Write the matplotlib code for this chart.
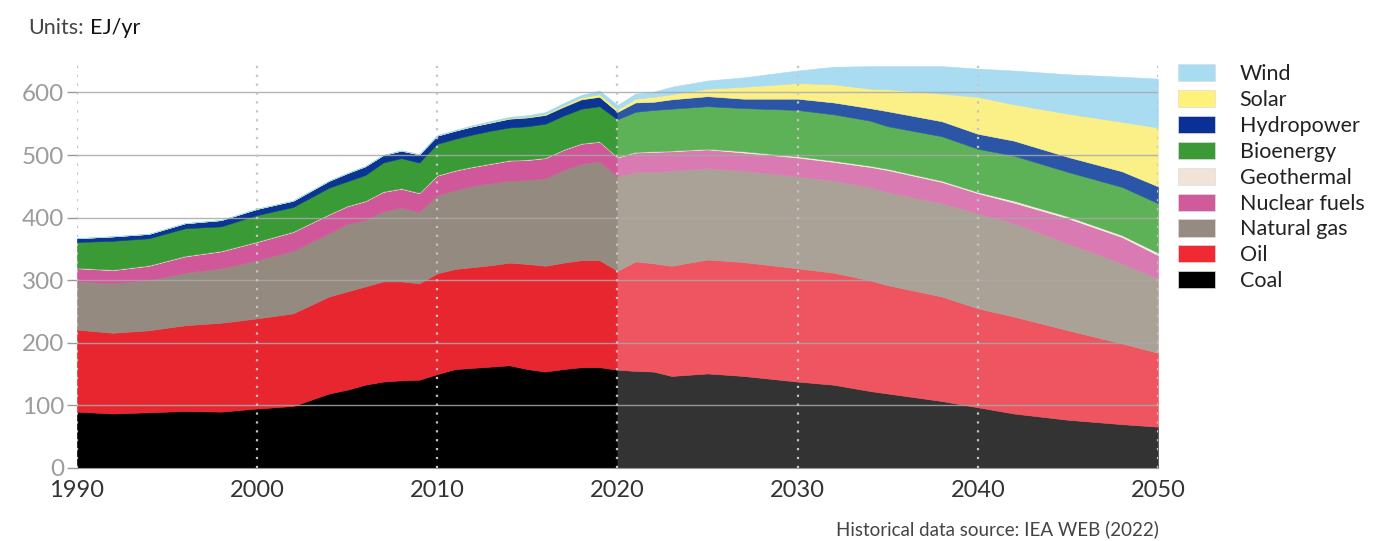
import matplotlib.pyplot as plt
from matplotlib.patches import Patch

plt.rcParams['font.family'] = ['Lato', 'DejaVu Sans']

# historical data (EJ/yr)
hist_years = [1990, 1992, 1994, 1996, 1998, 2000, 2002, 2004, 2005, 2006, 2007, 2008,
              2009, 2010, 2011, 2012, 2013, 2014, 2015, 2016, 2017, 2018, 2019, 2020]
hist_coal = [90, 87, 89, 91, 90, 95, 99, 119, 125, 133, 138, 140,
             141, 150, 158, 160, 162, 164, 158, 154, 158, 161, 161, 157]
hist_oil = [131, 129, 131, 137, 142, 144, 148, 155, 157, 157, 160, 158,
            154, 161, 160, 161, 162, 164, 168, 169, 170, 171, 171, 158]
hist_gas = [77, 79, 80, 84, 87, 93, 100, 101, 108, 106, 112, 118,
            114, 125, 126, 130, 131, 131, 134, 140, 148, 154, 158, 151]
hist_nuclear = [21, 21, 23, 26, 27, 29, 30, 30, 28, 30, 31, 30,
                30, 31, 31, 30, 31, 32, 32, 32, 32, 32, 31, 30]
hist_geo = [1] * 24
hist_bio = [41, 46, 43, 44, 39, 42, 39, 42, 39, 41, 46, 48,
            48, 50, 50, 51, 52, 52, 53, 54, 54, 55, 56, 60]
hist_hydro = [6, 7, 7, 8, 10, 10, 10, 11, 13, 14, 12, 12,
              13, 13, 13, 13, 13, 14, 14, 14, 14, 15, 15, 12]
hist_solar = [0, 0, 0, 0, 0, 0, 0, 0, 0, 0, 0, 0,
              0, 0, 0, 0.5, 0.5, 1, 1, 1.5, 2, 3, 4, 4]
hist_wind = [0, 0, 0, 0, 0, 0, 0, 0, 0, 0, 0, 0.5,
             0.5, 1, 1, 1.5, 2, 2, 2.5, 3, 4, 4, 6, 7]

# projection (EJ/yr)
proj_years = [2020, 2021, 2022, 2023, 2025, 2027, 2030, 2032, 2034, 2035,
              2038, 2040, 2042, 2045, 2048, 2050]
proj_coal = [157, 155, 154, 147, 151, 147, 138, 133, 123, 119, 107, 97, 87, 77, 70, 66]
proj_oil = [158, 175, 173, 176, 182, 182, 181, 179, 177, 173, 167, 158, 155, 143, 129, 118]
proj_gas = [151, 143, 146, 152, 146, 146, 147, 147, 149, 149, 149, 152, 149, 139, 128, 119]
proj_nuclear = [30, 31, 32, 31, 30, 29, 30, 30, 32, 35, 34, 32, 33, 40, 42, 37]
proj_geo = [1, 1, 1, 1, 1, 2, 2, 2, 2, 2, 2, 2, 3, 3, 3, 4]
proj_bio = [60, 64, 66, 67, 68, 69, 74, 74, 72, 68, 71, 69, 72, 71, 77, 79]
proj_hydro = [12, 15, 13, 15, 16, 15, 18, 19, 20, 24, 24, 24, 24, 24, 25, 27]
proj_solar = [4, 6, 8, 8, 12, 19, 25, 29, 31, 35, 44, 59, 58, 69, 79, 94]
proj_wind = [7, 8, 8, 12, 13, 15, 20, 28, 36, 37, 44, 45, 54, 63, 72, 78]

labels = ['Coal', 'Oil', 'Natural gas', 'Nuclear fuels', 'Geothermal',
          'Bioenergy', 'Hydropower', 'Solar', 'Wind']
hist_colors = ['#000000', '#e8262f', '#958a80', '#d0579a', '#efe3d4',
               '#3a9a35', '#0a3592', '#fff36a', '#a3d9ef']
proj_colors = ['#333333', '#ee5560', '#aba297', '#d97ab2', '#f6eee2',
               '#5db257', '#2b56a8', '#fbf088', '#a9dbf1']

fig = plt.figure(figsize=(13.98, 5.41), dpi=100)
ax = fig.add_axes([0.055, 0.135, 0.7733, 0.752])

ax.stackplot(hist_years, hist_coal, hist_oil, hist_gas, hist_nuclear, hist_geo,
             hist_bio, hist_hydro, hist_solar, hist_wind,
             colors=hist_colors, edgecolor='face', linewidth=0.4)
ax.stackplot(proj_years, proj_coal, proj_oil, proj_gas, proj_nuclear, proj_geo,
             proj_bio, proj_hydro, proj_solar, proj_wind,
             colors=proj_colors, edgecolor='face', linewidth=0.4)

ax.set_xlim(1990, 2050)
ax.set_ylim(0, 650)

# gridlines on top of areas
for yv in range(100, 700, 100):
    ax.axhline(yv, color='#a8a8a8', lw=1, alpha=0.85, zorder=5)
for xv in range(1990, 2060, 10):
    ax.axvline(xv, color='#c4c4c4', lw=1.6, ls=(0, (1, 3)), zorder=6)

ax.set_xticks(range(1990, 2060, 10))
ax.set_yticks(range(0, 700, 100))
ax.tick_params(axis='x', length=0, labelsize=17, colors='#333333', pad=9)
ax.tick_params(axis='y', length=7, width=1, color='#999999', labelsize=17.5,
               labelcolor='#9c9c9c', pad=2)
for s in ['top', 'right']:
    ax.spines[s].set_visible(False)
ax.spines['left'].set_visible(False)
ax.spines['bottom'].set_color('#999999')

handles = [Patch(facecolor=c, edgecolor='#dddddd', linewidth=0.5)
           for c in ['#a8dcf0', '#fff27a', '#0a2f96', '#3c9a36', '#f0e4d8',
                     '#cf5b9a', '#968b82', '#ef2a32', '#000000']]
leg_labels = ['Wind', 'Solar', 'Hydropower', 'Bioenergy', 'Geothermal',
              'Nuclear fuels', 'Natural gas', 'Oil', 'Coal']
fig.legend(handles, leg_labels, loc='upper left', bbox_to_anchor=(0.829, 0.917),
           frameon=False, fontsize=15.5, handlelength=1.7, handleheight=0.85,
           handletextpad=1.15, labelspacing=0.27, labelcolor='#222222')

fig.text(0.02, 0.948, 'Units:', fontsize=15.5, color='#444444', va='center')
fig.text(0.0645, 0.948, 'EJ/yr', fontsize=15.5, color='#111111', va='center')
fig.text(0.829, 0.006, 'Historical data source: IEA WEB (2022)', fontsize=13.5,
         color='#444444', ha='right', va='bottom')

fig.savefig('out.png', dpi=100)
